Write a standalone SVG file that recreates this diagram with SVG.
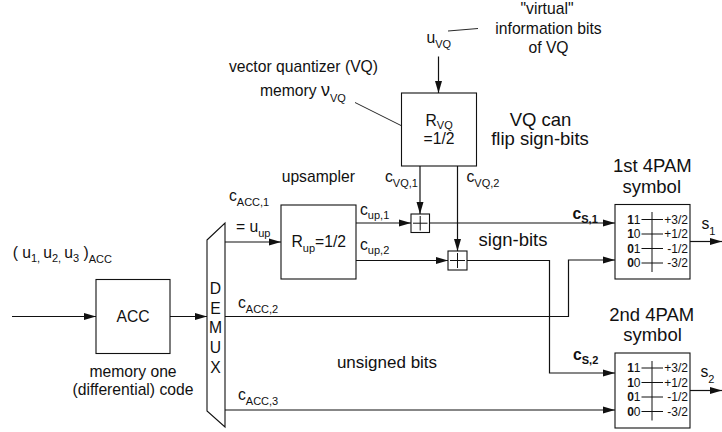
<svg xmlns="http://www.w3.org/2000/svg" width="722" height="432" viewBox="0 0 722 432">
<defs>
<style>
text{font-family:"Liberation Sans",Arial,sans-serif;fill:#111;font-size:15.7px}
.big{font-size:18.5px}
.mid{font-size:17px}
.sub{font-size:11px}
.tbl{font-size:12px}
.b{font-weight:bold}
.box{fill:#fff;stroke:#111;stroke-width:1.1}
.ln{fill:none;stroke:#111;stroke-width:1.2}
.arr{fill:none;stroke:#111;stroke-width:1.2;marker-end:url(#ah)}
.thin{fill:none;stroke:#111;stroke-width:0.9}
</style>
<marker id="ah" viewBox="0 0 12 8" refX="12" refY="4" markerWidth="12" markerHeight="8" markerUnits="userSpaceOnUse" orient="auto">
<path d="M0,0.5 L12,4 L0,7.5 z" fill="#111"/>
</marker>
</defs>

<g id="connectors">
<line class="arr" x1="12" y1="316.5" x2="96" y2="316.5"/>
<line class="arr" x1="170" y1="316.5" x2="207" y2="316.5"/>
<line class="arr" x1="225" y1="242" x2="281" y2="242"/>
<polyline class="arr" points="225,316.5 568.5,316.5 568.5,260 615,260"/>
<line class="arr" x1="225" y1="410" x2="615" y2="410"/>
<line class="arr" x1="438.5" y1="56.5" x2="438.5" y2="93"/>
<line class="arr" x1="420" y1="166" x2="420" y2="214"/>
<line class="arr" x1="457.5" y1="166" x2="457.5" y2="251"/>
<line class="arr" x1="356" y1="223" x2="411" y2="223"/>
<line class="arr" x1="356" y1="260.5" x2="448" y2="260.5"/>
<line class="arr" x1="429.5" y1="223" x2="615" y2="223"/>
<polyline class="arr" points="467,260.5 549.5,260.5 549.5,373 615,373"/>
<line class="arr" x1="690" y1="241.5" x2="722" y2="241.5"/>
<line class="arr" x1="690" y1="390.5" x2="722" y2="390.5"/>
<line class="thin" x1="448" y1="31" x2="478" y2="28.5"/>
<line class="thin" x1="355" y1="102.5" x2="411" y2="130.5"/>
</g>

<g id="acc">
<rect class="box" x="96" y="279.5" width="74" height="74"/>
<text x="133" y="321.5" text-anchor="middle">ACC</text>
<text x="133" y="376.5" text-anchor="middle">memory one</text>
<text x="133" y="395" text-anchor="middle">(differential) code</text>
</g>

<g id="input-label">
<text x="12.7" y="258.3" xml:space="preserve">( u<tspan class="sub" y="262">1, </tspan><tspan y="258.3">u</tspan><tspan class="sub" y="262">2, </tspan><tspan y="258.3">u</tspan><tspan class="sub" y="262">3</tspan><tspan y="258.3"> )</tspan><tspan class="sub" y="262.5">ACC</tspan></text>
</g>

<g id="demux">
<polygon class="box" points="207,240 225,223 225,427 207,411"/>
<text x="215.5" y="294" text-anchor="middle">D</text>
<text x="215.5" y="313.7" text-anchor="middle">E</text>
<text x="215.5" y="333.3" text-anchor="middle">M</text>
<text x="215.5" y="353" text-anchor="middle">U</text>
<text x="215.5" y="372.7" text-anchor="middle">X</text>
</g>

<g id="upsampler">
<rect class="box" x="281" y="205" width="75" height="74"/>
<text x="318.3" y="182" text-anchor="middle">upsampler</text>
<text x="291.5" y="247">R<tspan class="sub" y="252">up</tspan><tspan y="247">=1/2</tspan></text>
</g>

<g id="vq">
<rect class="box" x="401.5" y="93" width="75" height="73"/>
<text x="425.5" y="125.5">R<tspan class="sub" y="129">VQ</tspan></text>
<text x="439" y="144" text-anchor="middle">=1/2</text>
<text x="303.5" y="72" text-anchor="middle">vector quantizer (VQ)</text>
<text x="260" y="96" xml:space="preserve">memory <tspan style="font-size:18px">ν</tspan><tspan class="sub" y="101.5">VQ</tspan></text>
<text x="426.5" y="43">u<tspan class="sub" y="48">VQ</tspan></text>
<text x="547" y="14" text-anchor="middle">"virtual"</text>
<text x="548.5" y="33.5" text-anchor="middle">information bits</text>
<text x="548.5" y="52.5" text-anchor="middle">of VQ</text>
<text class="big" x="540.5" y="126" text-anchor="middle">VQ can</text>
<text class="big" x="540" y="145" text-anchor="middle">flip sign-bits</text>
</g>

<g id="adder1">
<rect class="box" x="411" y="214" width="18.5" height="18.5"/>
<path class="ln" d="M413,223.2 H427.5 M420.2,216 V230.5" style="stroke-width:1"/>
</g>

<g id="adder2">
<rect class="box" x="448" y="251" width="19" height="19"/>
<path class="ln" d="M450,260.5 H465 M457.5,253 V268" style="stroke-width:1"/>
</g>

<g id="labels">
<text x="229" y="201">c<tspan class="sub" y="206">ACC,1</tspan></text>
<text x="236" y="232" xml:space="preserve">= u<tspan class="sub" y="236.5">up</tspan></text>
<text x="238" y="308">c<tspan class="sub" y="313">ACC,2</tspan></text>
<text x="238" y="400">c<tspan class="sub" y="405">ACC,3</tspan></text>
<text x="385" y="181.5">c<tspan class="sub" y="186.5">VQ,1</tspan></text>
<text x="466.5" y="181.5">c<tspan class="sub" y="186.5">VQ,2</tspan></text>
<text x="360" y="214.5">c<tspan class="sub" y="218.5">up,1</tspan></text>
<text x="360" y="250">c<tspan class="sub" y="254">up,2</tspan></text>
<text class="b" x="572.5" y="219">c<tspan class="sub" y="223">S,1</tspan></text>
<text class="b" x="573" y="360">c<tspan class="sub" y="364">S,2</tspan></text>
<text class="big" x="513" y="246" text-anchor="middle">sign-bits</text>
<text class="mid" x="387" y="368" text-anchor="middle">unsigned bits</text>
</g>

<g id="pam1">
<rect class="box" x="615" y="204.5" width="75" height="74.5"/>
<text class="big" x="652.3" y="171.5" text-anchor="middle">1st 4PAM</text>
<text class="big" x="651.7" y="192.5" text-anchor="middle">symbol</text>
<line class="ln" x1="652" y1="212" x2="652" y2="272" style="stroke-width:1"/>
<path class="ln" d="M641.5,219.5 H663 M641.5,234 H663 M641.5,248.5 H663 M641.5,263 H663" style="stroke-width:1"/>
<text class="tbl" x="640.5" y="223.7" text-anchor="end"><tspan class="b">1</tspan>1</text>
<text class="tbl" x="640.5" y="238.2" text-anchor="end"><tspan class="b">1</tspan>0</text>
<text class="tbl" x="640.5" y="252.7" text-anchor="end"><tspan class="b">0</tspan>1</text>
<text class="tbl" x="640.5" y="267.2" text-anchor="end"><tspan class="b">0</tspan>0</text>
<text class="tbl" x="688" y="223.7" text-anchor="end">+3/2</text>
<text class="tbl" x="688" y="238.2" text-anchor="end">+1/2</text>
<text class="tbl" x="688" y="252.7" text-anchor="end">-1/2</text>
<text class="tbl" x="688" y="267.2" text-anchor="end">-3/2</text>
<text x="701.5" y="229">s<tspan class="sub" y="235">1</tspan></text>
</g>

<g id="pam2">
<rect class="box" x="615" y="353" width="75" height="75"/>
<text class="big" x="651.7" y="321" text-anchor="middle">2nd 4PAM</text>
<text class="big" x="652.5" y="341" text-anchor="middle">symbol</text>
<line class="ln" x1="652" y1="361" x2="652" y2="420.5" style="stroke-width:1"/>
<path class="ln" d="M641.5,368 H663 M641.5,382.5 H663 M641.5,397 H663 M641.5,411.5 H663" style="stroke-width:1"/>
<text class="tbl" x="640.5" y="372.2" text-anchor="end"><tspan class="b">1</tspan>1</text>
<text class="tbl" x="640.5" y="386.7" text-anchor="end"><tspan class="b">1</tspan>0</text>
<text class="tbl" x="640.5" y="401.2" text-anchor="end"><tspan class="b">0</tspan>1</text>
<text class="tbl" x="640.5" y="415.7" text-anchor="end"><tspan class="b">0</tspan>0</text>
<text class="tbl" x="688" y="372.2" text-anchor="end">+3/2</text>
<text class="tbl" x="688" y="386.7" text-anchor="end">+1/2</text>
<text class="tbl" x="688" y="401.2" text-anchor="end">-1/2</text>
<text class="tbl" x="688" y="415.7" text-anchor="end">-3/2</text>
<text x="700.5" y="377">s<tspan class="sub" y="383">2</tspan></text>
</g>
</svg>
